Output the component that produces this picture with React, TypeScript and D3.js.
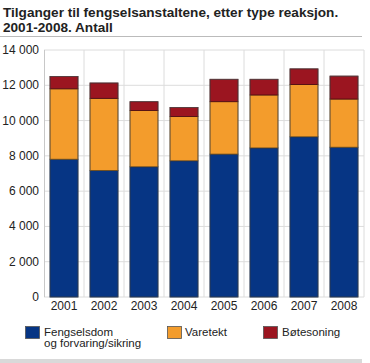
import React from "react";
import * as d3 from "d3";

const years = ["2001", "2002", "2003", "2004", "2005", "2006", "2007", "2008"];
const fengselsdom = [7810, 7170, 7380, 7720, 8100, 8450, 9080, 8490];
const varetekt = [3990, 4090, 3190, 2510, 2970, 3000, 2960, 2730];
const botesoning = [700, 870, 500, 510, 1270, 890, 890, 1300];
const yTicks = [0, 2000, 4000, 6000, 8000, 10000, 12000, 14000];

const seriesNames = ["Fengselsdom og forvaring/sikring", "Varetekt", "Bøtesoning"];
const colors = ["#063584", "#f39c2c", "#9b1520"];
const strokes = ["#04224f", "#6b4a1a", "#4a0a0f"];

const width = 370;
const height = 363;
const margin = { left: 44, right: 6, top: 50, bottom: 66 };
const font = "'Liberation Sans', Arial, sans-serif";

export default function App() {
  const plotW = width - margin.left - margin.right;
  const plotB = height - margin.bottom;

  const x = d3.scaleBand().domain(years).range([margin.left, margin.left + plotW]).paddingInner(0.3).paddingOuter(0.15);
  const grid = d3.scaleBand().domain(years).range([margin.left, margin.left + plotW]);
  const y = d3.scaleLinear().domain([0, 14000]).range([plotB, margin.top]);

  const table = years.map((yr, i) => ({ year: yr, a: fengselsdom[i], b: varetekt[i], c: botesoning[i] }));
  const stacked = d3.stack<any>().keys(["a", "b", "c"])(table);
  const fmt = (v: number) => d3.format(",")(v).replace(",", " ");

  return (
    <svg width={width} height={height} style={{ position: "absolute", left: 0, top: 0, fontFamily: font }}>
      <rect width={width} height={height} fill="#fff" />
      <text x={3} y={17} fontSize={13.6} fontWeight="bold" fill="#222">Tilganger til fengselsanstaltene, etter type reaksjon.</text>
      <text x={3} y={32} fontSize={13.6} fontWeight="bold" fill="#222">2001-2008. Antall</text>
      <line x1={0} x2={362} y1={36.5} y2={36.5} stroke="#bbb" />

      {/* grid */}
      {yTicks.map((t) => (
        <g key={t}>
          <line x1={margin.left} x2={margin.left + plotW} y1={y(t)} y2={y(t)} stroke="#dcdcdc" />
          <text x={margin.left - 5} y={y(t) + 4} fontSize={12} textAnchor="end" fill="#222">{fmt(t)}</text>
        </g>
      ))}
      {years.map((yr) => (
        <line key={yr} x1={grid(yr)! + grid.bandwidth()} x2={grid(yr)! + grid.bandwidth()} y1={margin.top} y2={plotB} stroke="#dcdcdc" />
      ))}
      <line x1={margin.left + 0.5} x2={margin.left + 0.5} y1={margin.top} y2={plotB} stroke="#c8c8c8" />

      {stacked.map((s, si) => (
        <g key={si}>
          {s.map((d, i) => (
            <rect key={i} x={x(years[i])} y={y(d[1])} width={x.bandwidth()} height={y(d[0]) - y(d[1])} fill={colors[si]} stroke={strokes[si]} strokeWidth={0.8} />
          ))}
        </g>
      ))}
      {table.map((d, i) => (
        <rect key={i} x={x(d.year)} y={y(d.a + d.b + d.c)} width={x.bandwidth()} height={plotB - y(d.a + d.b + d.c)} fill="none" stroke="#555" strokeWidth={0.8} opacity={0.7} />
      ))}

      {years.map((yr) => (
        <text key={yr} x={x(yr)! + x.bandwidth() / 2} y={plotB + 13} fontSize={12} textAnchor="middle" fill="#222">{yr}</text>
      ))}

      {/* legend */}
      <g fontSize={11.5} fill="#222">
        <rect x={25.5} y={326.5} width={14} height={12} fill={colors[0]} stroke="#555" strokeWidth={0.8} />
        <text x={44} y={336}>Fengselsdom</text>
        <text x={44} y={347}>og forvaring/sikring</text>
        <rect x={167.5} y={326.5} width={14} height={12} fill={colors[1]} stroke="#555" strokeWidth={0.8} />
        <text x={185} y={336}>{seriesNames[1]}</text>
        <rect x={263.5} y={326.5} width={14} height={12} fill={colors[2]} stroke="#555" strokeWidth={0.8} />
        <text x={282} y={336}>{seriesNames[2]}</text>
      </g>
      <rect x={0} y={359} width={362} height={4} fill="#d9d9d9" />
    </svg>
  );
}
